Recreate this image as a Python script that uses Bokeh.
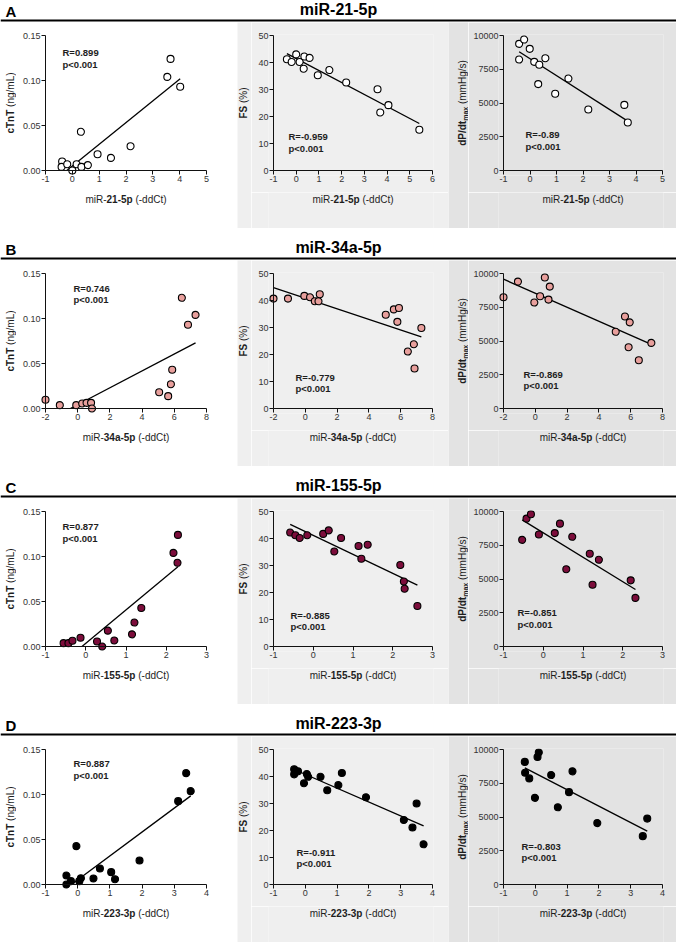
import math
import numpy as np
from bokeh.plotting import figure
from bokeh.layouts import column, row
from bokeh.models import (Range1d, FixedTicker, NumeralTickFormatter, Label, Span,
                          Spacer, ColumnDataSource, LinearAxis, CustomJSTickFormatter)
from bokeh.embed import file_html
from bokeh.resources import INLINE

# ---------------- data ----------------
row_letters = ["A", "B", "C", "D"]
mirnas = ["21-5p", "34a-5p", "155-5p", "223-3p"]

a_ctnt_x = [-0.38, -0.40, -0.19, 0.00, 0.16, 0.34, 0.58, 0.32, 0.94, 1.44, 2.17, 3.54, 3.66, 4.02]
a_ctnt_y = [0.010, 0.004, 0.007, 0.000, 0.007, 0.004, 0.006, 0.043, 0.018, 0.014, 0.027, 0.104, 0.124, 0.093]
a_fs_x = [-0.41, -0.20, 0.00, 0.15, 0.33, 0.36, 0.59, 0.95, 1.46, 2.20, 3.58, 3.70, 4.06, 5.42]
a_fs_y = [41.2, 40.2, 43.0, 40.2, 37.7, 42.2, 41.7, 35.3, 37.2, 32.6, 30.1, 21.5, 24.2, 15.1]
a_dp_x = [-0.41, -0.22, -0.41, -0.01, 0.16, 0.35, 0.58, 0.31, 0.95, 1.45, 2.20, 3.56, 3.69]
a_dp_y = [9380, 9700, 8220, 9010, 8050, 7830, 8320, 6400, 5680, 6810, 4520, 4860, 3560]

b_ctnt_x = [-2.00, -1.11, -0.09, 0.28, 0.55, 0.83, 0.89, 5.06, 5.62, 5.79, 5.87, 6.47, 6.85, 7.32]
b_ctnt_y = [0.0097, 0.0037, 0.0037, 0.0056, 0.0063, 0.0063, 0.000, 0.018, 0.0137, 0.027, 0.043, 0.123, 0.093, 0.104]
b_fs_x = [-2.00, -1.09, -0.06, 0.30, 0.60, 0.83, 0.91, 5.06, 5.57, 5.89, 5.79, 7.30, 6.83, 6.45, 6.87]
b_fs_y = [40.7, 40.7, 41.7, 41.2, 39.7, 39.7, 42.3, 34.7, 36.7, 37.2, 32.1, 29.8, 23.8, 21.1, 14.8]
b_dp_x = [-2.00, -1.09, 0.60, 0.91, 0.30, -0.06, 0.83, 5.06, 5.64, 5.94, 5.87, 6.51, 7.30]
b_dp_y = [8240, 9400, 9700, 9030, 8310, 7850, 8065, 5680, 6820, 6380, 4540, 3570, 4860]

c_ctnt_x = [-0.55, -0.43, -0.33, -0.13, 0.28, 0.41, 0.55, 0.71, 1.15, 1.21, 1.38, 2.18, 2.28, 2.29]
c_ctnt_y = [0.0037, 0.0037, 0.0064, 0.0097, 0.0056, 0.000, 0.0176, 0.0067, 0.0135, 0.0266, 0.0427, 0.104, 0.093, 0.124]
c_fs_x = [-0.58, -0.45, -0.34, -0.15, 0.25, 0.39, 0.53, 0.70, 1.14, 1.21, 1.37, 2.19, 2.28, 2.30, 2.62]
c_fs_y = [42.2, 41.2, 40.2, 41.2, 41.7, 43.0, 35.2, 40.2, 37.2, 32.5, 37.7, 30.2, 24.1, 21.4, 15.0]
c_dp_x = [-0.53, -0.42, -0.31, -0.11, 0.29, 0.42, 0.58, 0.73, 1.17, 1.24, 1.40, 2.20, 2.32]
c_dp_y = [7900, 9475, 9800, 8300, 8400, 9100, 5725, 8125, 6875, 4575, 6425, 4900, 3600]

d_ctnt_x = [-0.35, -0.35, -0.21, -0.04, 0.05, 0.10, 0.49, 0.69, 1.04, 1.16, 1.92, 3.12, 3.37, 3.51]
d_ctnt_y = [0.010, 0.000, 0.0037, 0.0426, 0.0037, 0.0070, 0.0067, 0.0178, 0.0137, 0.0059, 0.0267, 0.0926, 0.1237, 0.1037]
d_fs_x = [-0.35, -0.35, -0.23, -0.04, 0.05, 0.09, 0.48, 0.69, 1.04, 1.15, 1.91, 3.10, 3.37, 3.50, 3.72]
d_fs_y = [42.7, 40.8, 41.9, 37.5, 40.9, 39.9, 39.9, 34.9, 36.8, 41.3, 32.3, 23.9, 21.1, 30.0, 14.9]
d_dp_x = [-0.33, -0.32, -0.19, -0.01, 0.07, 0.11, 0.50, 0.71, 1.06, 1.17, 1.95, 3.38, 3.52]
d_dp_y = [9080, 8280, 7860, 6420, 9450, 9780, 8110, 5720, 6840, 8380, 4550, 3580, 4880]

r_texts = [["R=0.899", "R=-0.959", "R=-0.89"],
           ["R=0.746", "R=-0.779", "R=-0.869"],
           ["R=0.877", "R=-0.885", "R=-0.851"],
           ["R=0.887", "R=-0.911", "R=-0.803"]]
p_text = "p<0.001"

x_limits = [[(-1, 5), (-1, 6), (-1, 5)],
            [(-2, 8), (-2, 8), (-2, 8)],
            [(-1, 3), (-1, 3), (-1, 3)],
            [(-1, 4), (-1, 4), (-1, 4)]]
x_tick_sets = [[[-1, 0, 1, 2, 3, 4, 5], [-1, 0, 1, 2, 3, 4, 5, 6], [-1, 0, 1, 2, 3, 4, 5]],
               [[-2, 0, 2, 4, 6, 8]] * 3,
               [[-1, 0, 1, 2, 3]] * 3,
               [[-1, 0, 1, 2, 3, 4]] * 3]
y_limits = [(0, 0.15), (0, 50), (0, 10000)]
y_ticks = [[0, 0.05, 0.10, 0.15], [0, 10, 20, 30, 40, 50], [0, 2500, 5000, 7500, 10000]]
y_formats = ["0.00", "0", "0"]

series = [[(a_ctnt_x, a_ctnt_y), (a_fs_x, a_fs_y), (a_dp_x, a_dp_y)],
          [(b_ctnt_x, b_ctnt_y), (b_fs_x, b_fs_y), (b_dp_x, b_dp_y)],
          [(c_ctnt_x, c_ctnt_y), (c_fs_x, c_fs_y), (c_dp_x, c_dp_y)],
          [(d_ctnt_x, d_ctnt_y), (d_fs_x, d_fs_y), (d_dp_x, d_dp_y)]]

# ---------------- style / layout ----------------
FONT = "Liberation Sans"
TXT = "#1e1e1e"
AXC = "#111111"
row_fill = ["white", "#e89f9c", "#7c0d3b", "black"]
col_bg = ["white", "#efefef", "#e3e3e3"]
COL_W = [237, 211, 228]          # full column widths
YL_W = [16, 14, 20]              # y-title strip widths
BL = [45, 36, 55]                # y-axis position inside column
BR = [31, 16, 14]
PANEL_H = 206
BT = 13
AX_H = 135                       # y-axis length
MAIN_H = 170
XL_H = PANEL_H - MAIN_H
HEADER_H = 22
GAP = 10
PAD = 5                          # room so edge points are not clipped
ylab_cx = [9.5, 6, 14]
# (left offset from y axis, R centre above x axis, p centre above x axis)
stat_pos = [[(17, 118, 106.5), (15, 34, 22.5), (22, 36, 24.5)],
            [(28, 120.5, 109), (22, 31.5, 20), (20, 34.5, 23)],
            [(17, 120, 108.5), (17, 31.5, 20), (14, 34, 22.5)],
            [(28, 121, 109.5), (23, 32.5, 21), (18, 38, 27)]]

REG_W = {'m': 833, 'i': 222, 'R': 722, '-': 333, ' ': 278, '(': 333, ')': 333, 'd': 556,
         'C': 722, 't': 278, 'n': 556, 'g': 556, '/': 278, 'L': 556, 'T': 611, 'c': 500,
         '%': 889, 'H': 722, 's': 500, 'a': 556, 'x': 500, 'S': 667, 'F': 611, 'P': 667, 'p': 556}
BOLD_W = {'-': 333, 'p': 611, 'a': 556, 'c': 556, 'T': 611, 'n': 611, 'F': 611, 'S': 667,
          'd': 611, 'P': 667, '/': 278, 't': 333, 'm': 889, 'x': 556, ' ': 278}


def tw(s, size, style):
    table = BOLD_W if style == "bold" else REG_W
    return sum(table.get(ch, 556) for ch in s) * size / 1000.0


def mk_label(p, text, x, y, size, style, angle=0.0, align="left", color=TXT):
    p.add_layout(Label(x=x, y=y, x_units="screen", y_units="screen", text=text,
                       angle=angle, text_align=align, text_baseline="middle",
                       text_font=FONT, text_font_size=f"{size}px",
                       text_font_style=style, text_color=color))


def blank_fig(w, h, bg, left=0, right=0, top=0, bottom=0):
    f = figure(width=w, height=h, x_range=Range1d(0, 1), y_range=Range1d(0, 1),
               title=None, output_backend="svg", toolbar_location=None,
               x_axis_location=None, y_axis_location=None, min_border=0,
               min_border_left=left, min_border_right=right, min_border_top=top,
               min_border_bottom=bottom,
               outline_line_color=None, background_fill_color=bg, border_fill_color=bg)
    f.grid.visible = False
    return f


def part_spans(parts, start):
    """centre position of each (stripped) part along the reading direction"""
    out = []
    pos = start
    for t, s, st, sh in parts:
        n = len(t) - len(t.lstrip(" "))
        core = t.strip(" ")
        c = pos + tw(t[:n], s, st) + tw(core, s, st) / 2
        out.append((core, c, s, st, sh))
        pos += tw(t, s, st)
    return out


def hlabel(p, parts, cx, cy):
    total = sum(tw(t, s, st) for t, s, st, sh in parts)
    for core, c, s, st, sh in part_spans(parts, cx - total / 2):
        mk_label(p, core, c, cy - sh, s, st, align="center")


def vlabel(p, parts, cx, cy):
    total = sum(tw(t, s, st) for t, s, st, sh in parts)
    for core, c, s, st, sh in part_spans(parts, cy - total / 2):
        mk_label(p, core, cx + sh, c, s, st, angle=math.pi / 2, align="center")


ylab_parts = [[("cTnT", 10, "bold", 0), (" (ng/mL)", 10, "normal", 0)],
              [("FS", 10, "bold", 0), (" (%)", 10, "normal", 0)],
              [("dP/dt", 10, "bold", 0), ("max", 7, "bold", 3.0), (" (mmHg/s)", 10, "normal", 0)]]


def header(letter, name):
    w = sum(COL_W)
    h = blank_fig(w, HEADER_H, "white")
    h.add_layout(Span(location=0.09, dimension="width", line_color="black", line_width=2))
    mk_label(h, letter, 5, 11, 15, "bold", color="black")
    mk_label(h, f"miR-{name}", w / 2, 13, 16, "bold", align="center", color="black")
    return h


def style_axis(ax, labels):
    ax.minor_tick_out = 0
    ax.minor_tick_in = 0
    ax.major_tick_in = 0
    ax.major_label_text_font = FONT
    ax.major_label_text_font_size = "9px"
    ax.major_label_text_color = "#333333"
    ax.major_label_standoff = 0
    if labels:      # tick-label axis at the frame edge
        ax.axis_line_color = None
        ax.major_tick_line_color = None
        ax.major_tick_out = 0
    else:           # Prism-style axis line + ticks at the data origin
        ax.axis_line_color = AXC
        ax.axis_line_width = 1
        ax.major_tick_line_color = AXC
        ax.major_tick_out = 4


def panel(ri, ci):
    xs, ys = series[ri][ci]
    x0, x1 = x_limits[ri][ci]
    y0, y1 = y_limits[ci]
    bg = col_bg[ci]
    mw = COL_W[ci] - YL_W[ci]
    bl = BL[ci] - YL_W[ci]            # y-axis position inside main figure
    ax_w = mw - bl - BR[ci]           # x-axis length in px
    ux = (x1 - x0) / ax_w
    uy = (y1 - y0) / AX_H
    left_b, right_b = bl - PAD, BR[ci] - 1
    p = figure(width=mw, height=MAIN_H,
               x_range=Range1d(x0 - PAD * ux, x1 + ux),
               y_range=Range1d(y0 - PAD * uy, y1 + uy), title=None, output_backend="svg",
               toolbar_location=None, min_border_left=left_b, min_border_right=right_b,
               min_border_top=BT - 1, min_border_bottom=MAIN_H - BT - AX_H - PAD,
               background_fill_color=bg, border_fill_color=bg, outline_line_color=None)
    p.grid.visible = False
    xt = FixedTicker(ticks=x_tick_sets[ri][ci])
    yt = FixedTicker(ticks=y_ticks[ci])
    p.xaxis.ticker = xt
    p.yaxis.ticker = yt
    p.xaxis.formatter = NumeralTickFormatter(format="0")
    p.yaxis.formatter = NumeralTickFormatter(format=y_formats[ci])
    style_axis(p.xaxis[0], True)
    style_axis(p.yaxis[0], True)
    blank = CustomJSTickFormatter(code="return ''")
    xax = LinearAxis(fixed_location=y0, bounds=(x0, x1), ticker=xt, formatter=blank)
    yax = LinearAxis(fixed_location=x0, bounds=(y0, y1), ticker=yt, formatter=blank)
    style_axis(xax, False)
    style_axis(yax, False)
    p.add_layout(xax, "below")
    p.add_layout(yax, "left")
    # regression line computed from the data, kept above the x axis
    xa, ya = np.array(xs), np.array(ys)
    k, b = np.polyfit(xa, ya, 1)
    xs_line = xa.min()
    xe_line = xa.max()
    if k > 0 and k * xs_line + b < y0:
        xs_line = (y0 - b) / k
    lx = np.array([xs_line, xe_line])
    p.line(lx, k * lx + b, line_color="black", line_width=1.3)
    p.scatter(x="x", y="y", source=ColumnDataSource(dict(x=xs, y=ys)), marker="circle",
              size=7, fill_color=row_fill[ri], line_color="black", line_width=1.1)
    lx0, ry, py = stat_pos[ri][ci]
    for txt, yy in ((r_texts[ri][ci], ry), (p_text, py)):
        mk_label(p, txt, lx0 + PAD, yy + PAD, 9.5, "bold")

    # x-axis title strip (its frame shares the main frame's left/right edges)
    xl = blank_fig(mw, XL_H, bg, left=left_b, right=right_b)
    hlabel(xl, [("miR-", 10, "normal", 0), (mirnas[ri], 10, "bold", 0),
                (" (-ddCt)", 10, "normal", 0)], PAD + ax_w / 2, XL_H - 7)
    # y-axis title strip
    yl = blank_fig(YL_W[ci], PANEL_H, bg)
    vlabel(yl, ylab_parts[ci], ylab_cx[ci], PANEL_H - BT - AX_H / 2)
    return row(yl, column(p, xl))


children = []
for ri in range(4):
    children.append(header(row_letters[ri], mirnas[ri]))
    children.append(row(*[panel(ri, ci) for ci in range(3)]))
    if ri < 3:
        children.append(Spacer(width=sum(COL_W), height=GAP))

layout = column(*children)
open("out.html", "w").write(file_html(layout, INLINE))
